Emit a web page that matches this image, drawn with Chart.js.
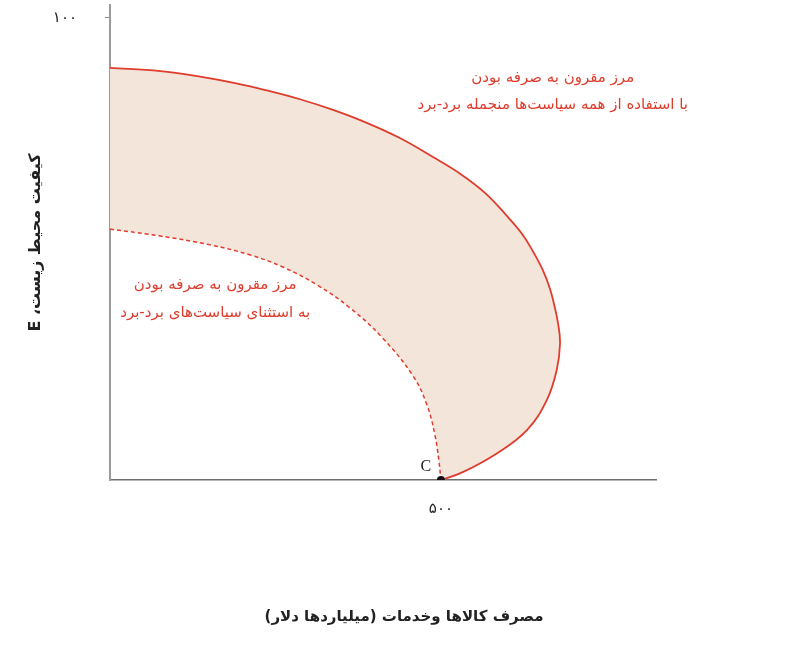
<!DOCTYPE html>
<html>
<head>
<meta charset="utf-8">
<script src="https://cdn.jsdelivr.net/npm/chart.js@4/dist/chart.umd.min.js"></script>
<style>
  html, body { margin: 0; padding: 0; background: #ffffff; }
  #wrap { width: 810px; height: 646px; position: relative; }
</style>
</head>
<body>
<div id="wrap"><canvas id="c" dir="rtl"></canvas></div>
<script>
// ---- data ----
const outerX = [0, 76, 136, 189, 237, 287, 337, 388, 438, 488, 529, 567, 600, 623, 639, 654, 665, 672, 677, 680, 675, 660, 630, 585, 533, 500];
const outerY = [89.2, 88.5, 87.3, 85.9, 84.3, 82.4, 80.1, 77.3, 74.0, 69.9, 66.3, 62.1, 57.1, 53.2, 49.5, 45.4, 41.3, 37.4, 33.9, 29.6, 23.8, 17.3, 10.8, 5.8, 1.7, 0];
const innerX = [0, 76, 151, 212, 261, 313, 363, 412, 458, 479, 491, 497, 500];
const innerY = [54.3, 52.8, 50.9, 48.7, 46.1, 42.2, 37.2, 30.7, 22.5, 16.2, 9.7, 4.1, 0];
const pointC = [500, 0];
const pointCLabel = 'C';
const xTickValues = [500];
const xTickLabels = ['۵۰۰'];
const yTickValues = [100];
const yTickLabels = ['۱۰۰'];
const xTitle = 'مصرف کالاها وخدمات (میلیاردها دلار)';
const yTitle = 'کیفیت محیط زیست، E';
const outerLabel = ['مرز مقرون به صرفه بودن', 'با استفاده از همه سیاست‌ها منجمله برد-برد'];
const innerLabel = ['مرز مقرون به صرفه بودن', 'به استثنای سیاست‌های برد-برد'];

const RED = '#e03c2c';
const FILL = '#f4e5db';
const PERSIAN = '"DejaVu Sans", "Noto Sans", sans-serif';
const SERIF = '"Liberation Serif", "DejaVu Serif", serif';

const toPts = (xs, ys) => xs.map((x, i) => ({x: x, y: ys[i]}));
const outerPts = toPts(outerX, outerY);
const innerPts = toPts(innerX, innerY);
const regionPts = outerPts.concat(innerPts.slice().reverse());

const textPlugin = {
  id: 'texts',
  afterDatasetsDraw(chart) {
    const ctx = chart.ctx;
    const xs = chart.scales.x, ys = chart.scales.y;
    ctx.save();
    ctx.direction = 'rtl';
    ctx.textAlign = 'center';
    ctx.textBaseline = 'middle';
    ctx.fillStyle = RED;
    ctx.font = '15px ' + PERSIAN;
    const cx1 = xs.getPixelForValue(669);
    ctx.fillText(outerLabel[0], cx1, ys.getPixelForValue(87.0));
    ctx.fillText(outerLabel[1], cx1, ys.getPixelForValue(81.2));
    const cx2 = xs.getPixelForValue(159);
    ctx.fillText(innerLabel[0], cx2, ys.getPixelForValue(42.2));
    ctx.fillText(innerLabel[1], cx2, ys.getPixelForValue(36.1));
    // C label
    ctx.direction = 'ltr';
    ctx.fillStyle = '#222';
    ctx.font = '16px ' + SERIF;
    ctx.fillText(pointCLabel, xs.getPixelForValue(pointC[0]) - 15, ys.getPixelForValue(pointC[1]) - 13);
    // x title
    ctx.direction = 'rtl';
    ctx.fillStyle = '#222';
    ctx.font = 'bold 15px ' + PERSIAN;
    ctx.fillText(xTitle, 404, 617);
    ctx.restore();
  }
};

new Chart(document.getElementById('c'), {
  type: 'line',
  data: {
    datasets: [
      {
        label: 'C',
        data: [{x: pointC[0], y: pointC[1]}],
        showLine: false,
        pointRadius: 4,
        pointBackgroundColor: '#111',
        pointBorderColor: '#111',
        borderWidth: 0
      },
      {
        label: 'outer',
        data: outerPts,
        borderColor: RED,
        borderWidth: 1.8,
        tension: 0.4,
        pointRadius: 0,
        fill: false
      },
      {
        label: 'inner',
        data: innerPts,
        borderColor: RED,
        borderWidth: 1.5,
        borderDash: [4, 3],
        tension: 0.4,
        pointRadius: 0,
        fill: false
      },
      {
        label: 'region',
        data: regionPts,
        borderWidth: 0,
        borderColor: 'rgba(0,0,0,0)',
        backgroundColor: FILL,
        tension: 0.4,
        pointRadius: 0,
        fill: 'shape'
      }
    ]
  },
  options: {
    responsive: true,
    maintainAspectRatio: false,
    animation: false,
    layout: { padding: { top: 5, right: 154, left: 0, bottom: 0 } },
    plugins: { legend: { display: false }, tooltip: { enabled: false } },
    scales: {
      x: {
        type: 'linear',
        min: 0,
        max: 825,
        afterBuildTicks(scale) { scale.ticks = xTickValues.map(v => ({value: v})); },
        afterFit(scale) { scale.height = 166; scale.paddingLeft = 0; scale.paddingRight = 0; },
        ticks: {
          autoSkip: false,
          maxRotation: 0,
          padding: 20,
          color: '#222',
          font: { size: 15, family: PERSIAN },
          callback(v) { const i = xTickValues.indexOf(v); return i >= 0 ? xTickLabels[i] : ''; }
        },
        grid: { display: false, drawTicks: false },
        border: { display: true, color: '#6e6e6e', width: 1.5 },
        title: { display: false }
      },
      y: {
        type: 'linear',
        min: 0,
        max: 102.8,
        afterBuildTicks(scale) { scale.ticks = yTickValues.map(v => ({value: v})); },
        afterFit(scale) { scale.width = 110; scale.paddingTop = 0; scale.paddingBottom = 0; },
        ticks: {
          autoSkip: false,
          padding: 28,
          color: '#222',
          font: { size: 15, family: PERSIAN },
          callback(v) { const i = yTickValues.indexOf(v); return i >= 0 ? yTickLabels[i] : ''; }
        },
        grid: { drawOnChartArea: false, drawTicks: true, tickLength: 5, color: '#888', lineWidth: 1 },
        border: { display: true, color: '#9a9a9a', width: 2 },
        title: {
          display: true,
          text: yTitle,
          color: '#222',
          font: { size: 16, weight: 'bold', family: PERSIAN },
          padding: { top: 26, bottom: 0 }
        }
      }
    }
  },
  plugins: [textPlugin]
});
</script>
</body>
</html>
